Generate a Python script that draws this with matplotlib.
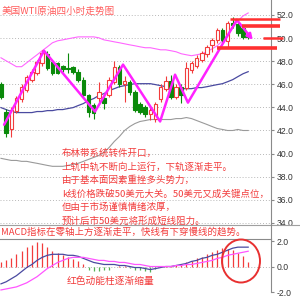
import matplotlib
matplotlib.use("Agg")
import matplotlib.pyplot as plt
from matplotlib.patches import Rectangle, Ellipse
from matplotlib.lines import Line2D

plt.rcParams["font.family"] = ["Noto Sans CJK SC", "DejaVu Sans"]

# 四小时K线：开、高、低、收
k_open = [46.0, 43.6, 42.1, 43.7, 44.7, 45.5, 46.4, 47.0, 47.8, 48.6,
          47.9, 47.8, 47.6, 47.4, 47.5, 47.1, 46.4, 45.1, 44.2, 44.8,
          44.8, 45.1, 46.2, 47.5, 46.0, 46.2, 45.3, 44.3, 44.0, 43.4,
          43.0, 44.7, 45.6, 46.3, 44.9, 45.8, 45.7, 47.2, 47.6, 48.1,
          48.6, 49.4, 49.8, 50.7, 49.7, 51.3, 51.2, 50.9, 50.3]
k_high = [46.2, 43.9, 44.0, 45.0, 46.0, 46.8, 47.3, 48.1, 49.0, 48.9,
          48.0, 47.9, 47.7, 48.7, 47.6, 47.3, 46.6, 45.2, 44.4, 46.2,
          45.0, 46.6, 48.0, 47.7, 46.7, 46.4, 45.5, 44.5, 44.2, 44.0,
          44.5, 46.0, 46.7, 46.8, 46.0, 46.0, 47.9, 48.0, 48.5, 48.9,
          49.4, 50.0, 50.9, 50.9, 51.5, 51.8, 51.4, 51.0, 50.4]
k_low = [44.7, 41.4, 41.4, 43.5, 44.5, 45.3, 46.2, 46.8, 47.6, 47.2,
         46.8, 46.9, 47.1, 47.0, 46.9, 46.2, 44.9, 43.2, 43.0, 44.5,
         43.9, 44.9, 46.0, 45.8, 44.5, 45.1, 43.6, 43.4, 43.2, 42.9,
         42.7, 44.5, 45.4, 44.7, 44.7, 44.4, 45.5, 47.0, 47.4, 47.9,
         48.4, 48.8, 49.6, 49.6, 49.2, 50.9, 50.2, 49.9, 49.9]
k_close = [44.9, 41.8, 43.8, 44.8, 45.8, 46.6, 47.1, 47.9, 48.7, 47.4,
           47.0, 47.0, 47.3, 47.3, 47.1, 46.4, 45.1, 43.6, 43.5, 45.3,
           44.4, 46.4, 47.5, 46.0, 46.3, 45.3, 43.8, 43.6, 43.4, 43.8,
           44.3, 45.8, 46.3, 44.9, 45.8, 45.1, 47.4, 47.8, 48.3, 48.7,
           49.2, 49.8, 50.7, 49.8, 51.3, 51.1, 50.4, 50.1, 50.1]

# 布林带
boll_up = [48.29, 48.03, 47.78, 47.52, 47.52, 47.86, 48.21, 48.55, 48.90, 49.24,
           49.59, 49.76, 49.84, 49.93, 50.02, 50.10, 50.10, 50.10, 50.10, 50.02,
           49.84, 49.76, 49.67, 49.59, 49.50, 49.41, 49.33, 49.24, 49.16, 49.16,
           49.07, 48.98, 48.98, 48.90, 48.81, 48.64, 48.55, 48.47, 48.55, 48.64,
           48.81, 49.07, 49.33, 49.76, 50.28, 50.88, 51.48, 51.91, 52.17]
boll_mid = [43.98, 43.81, 43.64, 43.55, 43.55, 43.55, 43.55, 43.64, 43.64, 43.72,
            43.72, 43.81, 43.81, 43.90, 43.98, 44.16, 44.33, 44.59, 44.76, 45.02,
            45.19, 45.45, 45.62, 45.79, 45.88, 45.97, 46.05, 46.05, 46.05, 46.05,
            45.97, 45.88, 45.79, 45.71, 45.71, 45.62, 45.62, 45.62, 45.71, 45.71,
            45.79, 45.88, 45.97, 46.05, 46.22, 46.40, 46.66, 46.91, 47.09]
boll_low = [39.59, 39.50, 39.41, 39.41, 39.33, 39.33, 39.24, 39.16, 39.07, 38.98,
            38.90, 38.90, 38.90, 38.98, 39.07, 39.16, 39.33, 39.50, 39.67, 39.84,
            40.10, 40.53, 41.05, 41.48, 42.00, 42.34, 42.60, 42.78, 42.86, 42.95,
            42.95, 42.95, 42.95, 42.95, 43.03, 43.03, 43.12, 43.03, 42.86, 42.69,
            42.52, 42.34, 42.17, 42.09, 42.00, 42.00, 42.09, 42.00, 42.00]

# MACD
macd_bar = [0.35, 0.5, 0.7, 0.95, 1.2, 1.5, 1.7, 1.95, 1.85, 1.5,
            1.2, 1.1, 0.9, 0.75, 0.6, 0.45, 0.2, -0.3, -0.35, -0.35,
            -0.3, -0.25, -0.05, 0.05, 0.05, -0.1, -0.25, -0.3, -0.35, -0.4,
            -0.2, -0.05, 0.05, 0.05, 0.1, 0.15, 0.35, 0.45, 0.7, 0.75,
            0.95, 1.15, 1.3, 1.45, 1.4, 1.3, 1.05, 0.8, 0.35]
dif = [-1.36, -1.2, -0.96, -0.72, -0.4, -0.08, 0.16, 0.48, 0.72, 0.88,
       0.96, 0.96, 0.96, 0.88, 0.88, 0.8, 0.64, 0.48, 0.32, 0.24,
       0.16, 0.16, 0.16, 0.08, 0.08, 0.0, -0.08, -0.08, -0.16, -0.24,
       -0.16, -0.08, 0.0, 0.0, 0.08, 0.16, 0.24, 0.4, 0.48, 0.64,
       0.72, 0.88, 0.96, 1.12, 1.28, 1.44, 1.52, 1.52, 1.52]
dea = [-1.84, -1.76, -1.68, -1.6, -1.44, -1.28, -1.04, -0.8, -0.48, -0.16,
       0.08, 0.32, 0.48, 0.64, 0.72, 0.72, 0.72, 0.64, 0.56, 0.48,
       0.48, 0.4, 0.4, 0.32, 0.32, 0.24, 0.16, 0.16, 0.08, 0.0,
       0.0, 0.0, 0.0, 0.0, 0.08, 0.08, 0.16, 0.16, 0.24, 0.32,
       0.4, 0.48, 0.64, 0.72, 0.88, 0.96, 1.04, 1.12, 1.2]

# 手绘走势线 (K线序号, 价格)
zz_x = [0.6, 8.35, 18.25, 23.7, 30.9, 33.8, 36.3, 45.8, 48.9]
zz_y = [42.5, 48.9, 43.64, 47.7, 42.78, 46.83, 44.41, 51.57, 49.84]

# 压力/支撑横线：价格, 起点, 终点
lvl_price = [51.65, 51.05, 50.0, 49.15]
lvl_start = [44.5, 46.8, 50.9, 41.9]
lvl_end = [54.2, 54.2, 54.8, 53.6]
lvl_width = [1.8, 2.6, 1.8, 2.6]

price_ticks = [34, 36, 38, 40, 42, 44, 46, 48, 50, 52]
macd_ticks = [-2, 0, 2]

title = "美国WTI原油四小时走势图"
notes = ["布林带系统转件开口，",
         "上轨中轨不断向上运行，下轨逐渐走平。",
         "由于基本面因素重挫多头势力，",
         "k线价格跌破50美元大关。50美元又成关键点位，",
         "但由于市场谨慎情绪浓厚，",
         "预计后市50美元将形成短线阻力。"]
macd_note = "MACD指标在零轴上方逐渐走平，快线有下穿慢线的趋势。"
bar_note = "红色动能柱逐渐缩量"

RED = "#f23c3c"
GREEN = "#0a8a0a"
GRID = "#b8b8b8"
AXC = "#8a8a8a"

W = H = 300.0
fig = plt.figure(figsize=(3, 3), dpi=100)
fig.patch.set_facecolor("white")

xl = (-0.19, 52.43)
ax = fig.add_axes([0, 1 - 224 / H, 271 / W, 224 / H])
ax2 = fig.add_axes([0, 1 - 292 / H, 271 / W, 53 / H])

# 主图
ax.set_xlim(*xl)
ax.set_ylim(33.91, 53.29)
for p in price_ticks:
    ax.axhline(p, color=GRID, lw=0.7, ls=(0, (1, 2)), zorder=0)

ax.plot(boll_up, color="#ff66ff", lw=0.8, zorder=1)
ax.plot(boll_mid, color="#4a4aa0", lw=0.9, zorder=1)
ax.plot(boll_low, color="#9a9a9a", lw=0.8, zorder=1)

bw = 0.68
for i in range(len(k_open)):
    o, h, l, c = k_open[i], k_high[i], k_low[i], k_close[i]
    up = c >= o
    col = RED if up else GREEN
    ax.vlines(i, l, h, color=col, lw=0.8, zorder=2)
    ax.add_patch(Rectangle((i - bw / 2, min(o, c)), bw, max(abs(c - o), 0.05),
                           facecolor="white" if up else GREEN,
                           edgecolor=col, lw=0.8, zorder=3))

ax.plot(zz_x[:-1], zz_y[:-1], color="#ff22ff", lw=1.8, zorder=4,
        solid_capstyle="round")
ax.annotate("", xy=(zz_x[-1], zz_y[-1]), xytext=(zz_x[-2], zz_y[-2]),
            arrowprops=dict(arrowstyle="-|>", color="#ff22ff", lw=1.8,
                            mutation_scale=8, shrinkA=0, shrinkB=0), zorder=4)

for p, s, e, w in zip(lvl_price, lvl_start, lvl_end, lvl_width):
    ax.plot([s, e], [p, p], color="#ff3030", lw=w, clip_on=False, zorder=5,
            solid_capstyle="butt")

ax.yaxis.tick_right()
ax.set_yticks(price_ticks)
ax.set_yticklabels(["%.1f" % p for p in price_ticks])
ax.set_xticks([])
for s in ("left", "top", "bottom"):
    ax.spines[s].set_visible(False)
ax.spines["right"].set_color(AXC)
ax.spines["right"].set_linewidth(0.8)

# MACD副图
ax2.set_xlim(*xl)
ax2.set_ylim(-2.0, 2.16)
ax2.axhline(0, color=GRID, lw=0.7, ls=(0, (1, 2)), zorder=0)
xs = list(range(len(macd_bar)))
ax2.vlines(xs, 0, macd_bar,
           colors=[RED if v >= 0 else "#55b055" for v in macd_bar], lw=0.9)
ax2.plot(dif, color="#4a4aa0", lw=0.9)
ax2.plot(dea, color="#ff55ff", lw=0.9)
ax2.yaxis.tick_right()
ax2.set_yticks(macd_ticks)
ax2.set_yticklabels(["%.1f" % v for v in macd_ticks])
ax2.set_xticks([])
for s in ("left", "bottom"):
    ax2.spines[s].set_visible(False)
for s in ("top", "right"):
    ax2.spines[s].set_color(AXC)
    ax2.spines[s].set_linewidth(0.8)

for a in (ax, ax2):
    a.tick_params(axis="y", length=2, pad=2, colors=AXC, labelcolor="#333333")
    for t in a.get_yticklabels():
        t.set_fontfamily("Liberation Sans")
        t.set_fontsize(6.2)

# 分隔线
fig.add_artist(Line2D([0, 1], [1 - 225 / H] * 2, color="#a0a0a0", lw=0.8))
fig.add_artist(Line2D([271 / W] * 2, [1 - 224 / H, 1 - 239 / H], color=AXC, lw=0.8))

# 圈注
fig.add_artist(Ellipse((241 / W, 1 - 261 / H), 38 / W, 43 / H,
                       transform=fig.transFigure, fill=False,
                       edgecolor="#e83030", lw=1.4))

# 文字
fig.text(2 / W, 1 - 11 / H, title, color="#ff5a5a", fontsize=6.9, va="center")
for k, line in enumerate(notes):
    fig.text(62 / W, 1 - (153 + 13.6 * k) / H, line, color=RED,
             fontsize=6.8, va="center")
fig.text(1 / W, 1 - 232 / H, macd_note, color=RED, fontsize=6.8, va="center")
fig.text(67 / W, 1 - 281 / H, bar_note, color=RED, fontsize=7.0, va="center")

fig.savefig("out.png", dpi=100, facecolor="white")
